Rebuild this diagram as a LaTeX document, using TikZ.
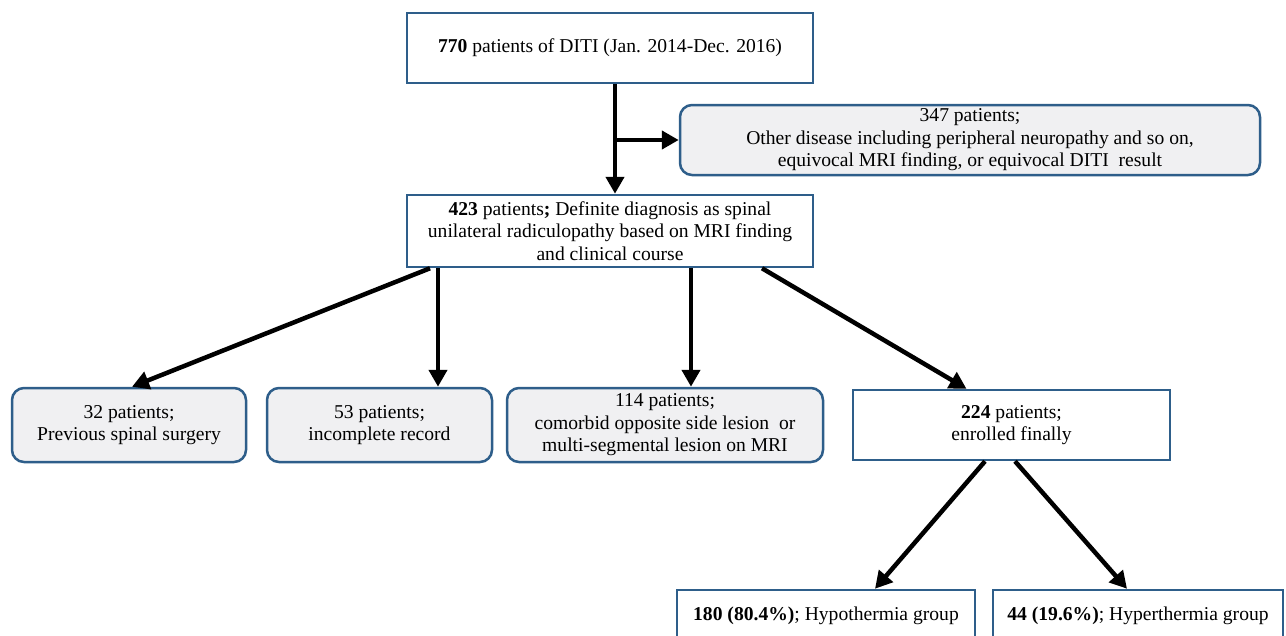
\documentclass[tikz,border=0pt]{standalone}
\usepackage{fontspec}
\setmainfont{LiberationSerif}[Extension=.ttf, UprightFont=*-Regular, BoldFont=*-Bold]
\usepackage{xcolor}
\usetikzlibrary{arrows.meta}

\definecolor{boxblue}{RGB}{46,94,138}
\definecolor{boxgray}{RGB}{240,240,242}

\begin{document}
\begin{tikzpicture}[x=1pt,y=-1pt,
            box/.style={draw=boxblue, line width=2.5pt, fill=white, align=center, inner sep=0pt,
                        font=\fontsize{19.6}{22.5}\selectfont},
            rbox/.style={box, fill=boxgray, rounded corners=12pt},
            arr/.style={line width=4.5pt, -{Triangle[length=17pt,width=18pt]}}]
        \useasboundingbox (0,0) rectangle (1286,635);
        \clip (0,0) rectangle (1286,635);

        \node[box, minimum width=406, minimum height=70] (all) at (610,48)
            {\textbf{770} patients of DITI (Jan. 2014-Dec. 2016)};
        \node[rbox, minimum width=580, minimum height=70] (other) at (970,140)
            {347 patients;\\Other disease including peripheral neuropathy and so on,\\equivocal MRI finding, or equivocal DITI\ \ result};
        \node[box, minimum width=406, minimum height=72] (dx) at (610,231)
            {\textbf{423} patients\textbf{;} Definite diagnosis as spinal\\unilateral radiculopathy based on MRI finding\\and clinical course};

        \node[rbox, minimum width=234, minimum height=74] (prev) at (129,425)
            {32 patients;\\Previous spinal surgery};
        \node[rbox, minimum width=225, minimum height=74] (incomp) at (379.5,425)
            {53 patients;\\incomplete record};
        \node[rbox, minimum width=316, minimum height=74] (comorb) at (665,425)
            {114 patients;\\comorbid opposite side lesion\ \ or\\multi-segmental lesion on MRI};
        \node[box, minimum width=317, minimum height=70] (enrol) at (1011.5,425)
            {\textbf{224} patients;\\enrolled finally};

        \node[box, minimum width=298, minimum height=52] (hypo) at (826,616)
            {\textbf{180 (80.4\%)}; Hypothermia group};
        \node[box, minimum width=290, minimum height=52] (hyper) at (1138,616)
            {\textbf{44 (19.6\%)}; Hyperthermia group};

        % exclusion branch
        \coordinate (br) at (615,140);
        \draw[arr] ([xshift=5]all.south) -- ([xshift=5]dx.north);
        \draw[arr] (br) -- (other.west);

        \draw[arr] ([xshift=-180]dx.south) -- ([xshift=3]prev.north);
        \draw[arr] ([xshift=-172]dx.south) -- ([xshift=58.5]incomp.north);
        \draw[arr] ([xshift=81]dx.south) -- ([xshift=26]comorb.north);
        \draw[arr] ([xshift=152]dx.south) -- ([xshift=-45]enrol.north);

        \draw[arr] ([xshift=-26.5]enrol.south) -- ([xshift=49]hypo.north);
        \draw[arr] ([xshift=3.5]enrol.south) -- ([xshift=-11]hyper.north);
    \end{tikzpicture}
\end{document}
